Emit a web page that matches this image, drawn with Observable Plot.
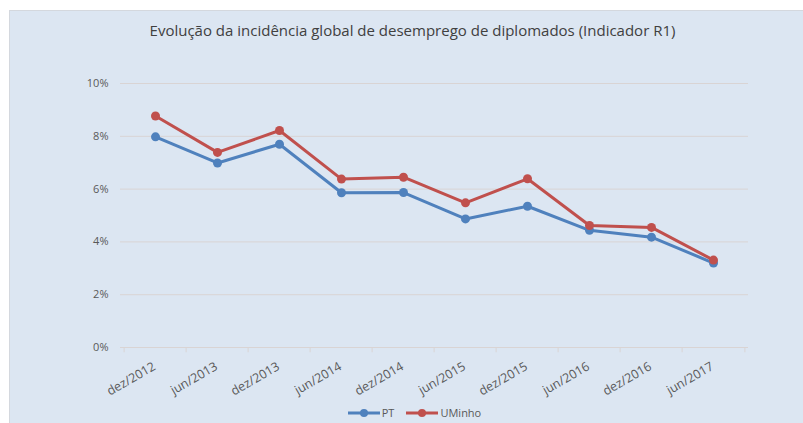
<!DOCTYPE html>
<html>
<head>
<meta charset="utf-8">
<script src="https://cdn.jsdelivr.net/npm/d3@7"></script>
<script src="https://cdn.jsdelivr.net/npm/@observablehq/plot@0.6"></script>
<style>
  html, body { margin: 0; padding: 0; background: #ffffff; }
  #wrap { position: absolute; left: 9px; top: 10px; width: 794px; height: 413px;
          background: #dce6f2; border-top: 1px solid #d4d8de; border-left: 1px solid #d4d8de; box-sizing: border-box;
          font-family: "Open Sans", sans-serif; color: #595959; overflow: hidden; }
  #title { height: 40px; box-sizing: border-box; padding-top: 9px; text-align: center; font-size: 15px;
           color: #404040; padding-left: 12px; letter-spacing: 0px; }
  #chart svg { display: block; }
  #legend { display: flex; justify-content: center; align-items: center; gap: 12px; font-size: 11px;
            color: #595959; padding-left: 16px; padding-top: 1px; line-height: 12px; }
  .item { display: flex; align-items: center; gap: 2px; }
</style>
</head>
<body>
<div id="wrap">
  <div id="title">Evolução da incidência global de desemprego de diplomados (Indicador R1)</div>
  <div id="chart"></div>
  <div id="legend"></div>
</div>
<script>
const categories = ["dez/2012","jun/2013","dez/2013","jun/2014","dez/2014","jun/2015","dez/2015","jun/2016","dez/2016","jun/2017"];
const ptValues = [7.98, 6.99, 7.70, 5.86, 5.87, 4.87, 5.35, 4.44, 4.18, 3.20];
const uminhoValues = [8.77, 7.39, 8.22, 6.38, 6.45, 5.48, 6.39, 4.62, 4.55, 3.31];
const seriesNames = ["PT", "UMinho"];
const seriesColors = ["#4f81bd", "#c0504d"];
const yTicks = [0, 2, 4, 6, 8, 10];

const data = [
  ...categories.map((c, i) => ({cat: c, value: ptValues[i], series: "PT"})),
  ...categories.map((c, i) => ({cat: c, value: uminhoValues[i], series: "UMinho"}))
];

const width = 793, height = 355;
const marginLeft = 110, marginRight = 55, marginTop = 32, marginBottom = 59;
const step = (width - marginLeft - marginRight) / categories.length;
const boundaries = categories.map((c, i) => ({cat: c, dx: -step / 2}));
boundaries.push({cat: categories[categories.length - 1], dx: step / 2});

const plot = Plot.plot({
  width, height, marginLeft, marginRight, marginTop, marginBottom,
  style: {background: "transparent", fontFamily: "Open Sans, sans-serif", fontSize: "11px", color: "#595959"},
  x: {type: "point", domain: categories, padding: 0.5, label: null},
  y: {domain: [0, 10], label: null},
  color: {domain: seriesNames, range: seriesColors},
  marks: [
    Plot.ruleY(yTicks, {stroke: "#d9d4d4", strokeWidth: 1}),
    ...boundaries.map(b => Plot.ruleX([b.cat], {y1: 0, y2: -0.2, dx: b.dx, stroke: "#d9d4d4"})),
    Plot.axisY(yTicks, {tickSize: 0, tickPadding: 12, tickFormat: d => d + "%", fontSize: 11}),
    Plot.axisX({tickSize: 0, tickPadding: 18, tickRotate: -30, fontSize: 12.5, dx: -1}),
    Plot.line(data, {x: "cat", y: "value", z: "series", stroke: "series", strokeWidth: 3, curve: "linear"}),
    Plot.dot(data, {x: "cat", y: "value", fill: "series", r: 4.5, stroke: "none"})
  ]
});
document.getElementById("chart").appendChild(plot);

const legend = document.getElementById("legend");
seriesNames.forEach((name, i) => {
  const item = document.createElement("div");
  item.className = "item";
  item.innerHTML = `<svg width="32" height="12"><line x1="0" x2="32" y1="6" y2="6" stroke="${seriesColors[i]}" stroke-width="3"/><circle cx="16" cy="6" r="4" fill="${seriesColors[i]}"/></svg><span>${name}</span>`;
  legend.appendChild(item);
});
</script>
</body>
</html>
